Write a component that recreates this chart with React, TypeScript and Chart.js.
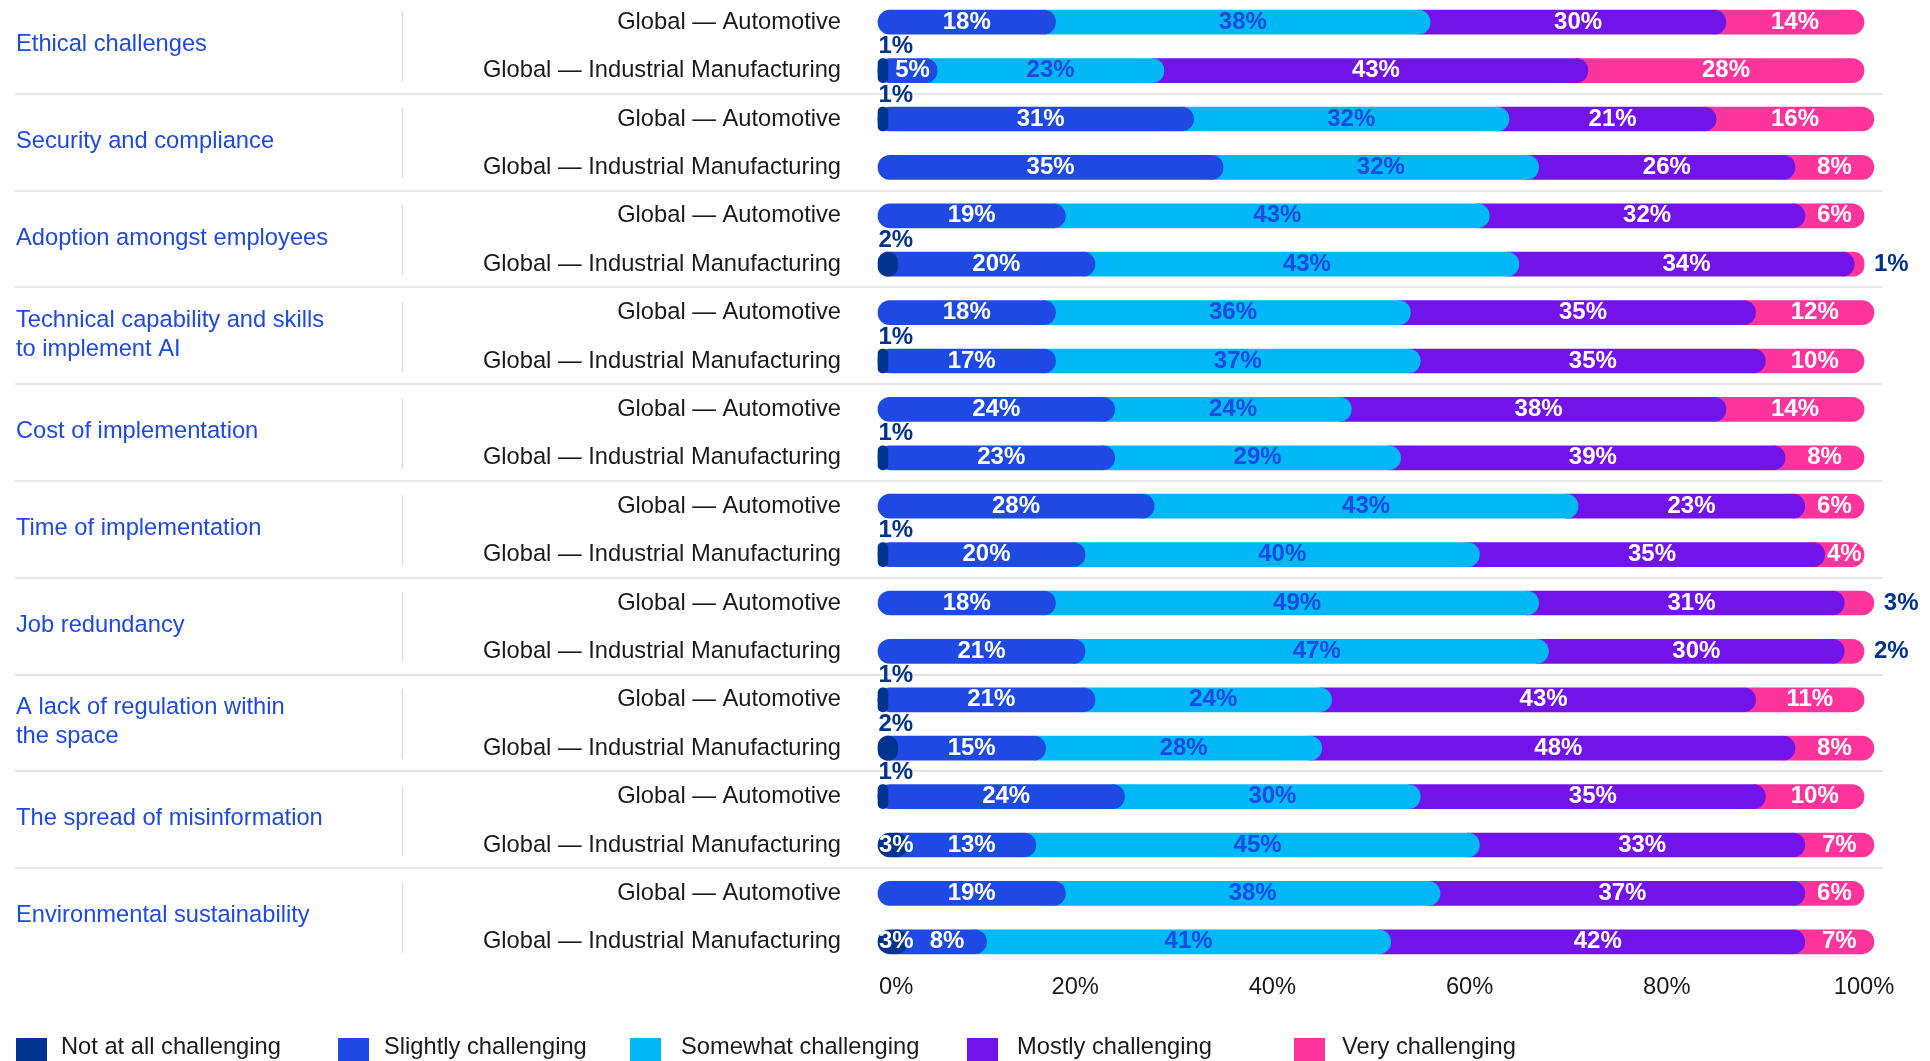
import { useEffect, useRef } from "react";
import { Chart, registerables } from "chart.js";

Chart.register(...registerables);

const CATEGORIES: (string | string[])[] = [
  "Ethical challenges",
  "Security and compliance",
  "Adoption amongst employees",
  ["Technical capability and skills", "to implement AI"],
  "Cost of implementation",
  "Time of implementation",
  "Job redundancy",
  ["A lack of regulation within", "the space"],
  "The spread of misinformation",
  "Environmental sustainability",
];
const ROW_LABELS = ["Global — Automotive", "Global — Industrial Manufacturing"];
const SERIES_NAMES = [
  "Not at all challenging",
  "Slightly challenging",
  "Somewhat challenging",
  "Mostly challenging",
  "Very challenging",
];
// rows: each category -> Automotive, Industrial Manufacturing
const NOT_AT_ALL = [0, 1, 1, 0, 0, 2, 0, 1, 0, 1, 0, 1, 0, 0, 1, 2, 1, 3, 0, 3];
const SLIGHTLY = [18, 5, 31, 35, 19, 20, 18, 17, 24, 23, 28, 20, 18, 21, 21, 15, 24, 13, 19, 8];
const SOMEWHAT = [38, 23, 32, 32, 43, 43, 36, 37, 24, 29, 43, 40, 49, 47, 24, 28, 30, 45, 38, 41];
const MOSTLY = [30, 43, 21, 26, 32, 34, 35, 35, 38, 39, 23, 35, 31, 30, 43, 48, 35, 33, 37, 42];
const VERY = [14, 28, 16, 8, 6, 1, 12, 10, 14, 8, 6, 4, 3, 2, 11, 8, 10, 7, 6, 7];
const X_TICKS = [0, 20, 40, 60, 80, 100];

const SERIES = [NOT_AT_ALL, SLIGHTLY, SOMEWHAT, MOSTLY, VERY];
const COLORS = ["#00338D", "#1E49E2", "#00B8F5", "#7213EA", "#FD349C"];
const LABEL_COLORS = ["#FFFFFF", "#FFFFFF", "#1E49E2", "#FFFFFF", "#FFFFFF"];
const FONT = '"Liberation Sans", Arial, Helvetica, sans-serif';
const OVERLAP = 1.2;
const RADIUS = 12;
const CANVAS_TOP = -2;

const LEGEND_POS = [
  { box: 16, text: 61 },
  { box: 338, text: 384 },
  { box: 630, text: 681 },
  { box: 967, text: 1017 },
  { box: 1294, text: 1342 },
];

const rowLabels = CATEGORIES.flatMap(() => ROW_LABELS);

const decorPlugin = {
  id: "decor",
  beforeDatasetsDraw(chart: any) {
    const ctx = chart.ctx as CanvasRenderingContext2D;
    const ys = chart.scales.y;
    ctx.save();
    // horizontal separators
    ctx.strokeStyle = "#E6E6E6";
    ctx.lineWidth = 2;
    for (let g = 1; g < CATEGORIES.length; g++) {
      const y = Math.round((ys.getPixelForValue(2 * g - 1) + ys.getPixelForValue(2 * g)) / 2 - 1);
      ctx.beginPath();
      ctx.moveTo(15, y);
      ctx.lineTo(1883, y);
      ctx.stroke();
    }
    // vertical separators
    ctx.strokeStyle = "#DDDDDD";
    ctx.lineWidth = 1.5;
    for (let g = 0; g < CATEGORIES.length; g++) {
      const y0 = ys.getPixelForValue(2 * g) - 11;
      const y1 = ys.getPixelForValue(2 * g + 1) + 11;
      ctx.beginPath();
      ctx.moveTo(402.5, y0);
      ctx.lineTo(402.5, y1);
      ctx.stroke();
    }
    // category labels
    ctx.fillStyle = "#1E49E2";
    ctx.font = `23.7px ${FONT}`;
    ctx.textAlign = "left";
    ctx.textBaseline = "middle";
    CATEGORIES.forEach((cat, g) => {
      const lines = Array.isArray(cat) ? cat : [cat];
      const cy = (ys.getPixelForValue(2 * g) + ys.getPixelForValue(2 * g + 1)) / 2 - 2;
      const lh = 29.5;
      lines.forEach((ln, j) => {
        ctx.fillText(ln, 16, cy + (j - (lines.length - 1) / 2) * lh);
      });
    });
    // row (sub) labels
    ctx.fillStyle = "#1A1A1A";
    ctx.textAlign = "right";
    rowLabels.forEach((lab, i) => {
      ctx.fillText(lab, 841, ys.getPixelForValue(i));
    });
    ctx.restore();
  },
  afterDatasetsDraw(chart: any) {
    const ctx = chart.ctx as CanvasRenderingContext2D;
    const xs = chart.scales.x;
    const ys = chart.scales.y;
    ctx.save();
    ctx.font = `bold 24px ${FONT}`;
    ctx.textBaseline = "middle";
    for (let i = 0; i < rowLabels.length; i++) {
      const y = ys.getPixelForValue(i);
      let cum = 0;
      for (let k = 0; k < SERIES.length; k++) {
        const v = SERIES[k][i];
        if (!v) continue;
        const x0 = xs.getPixelForValue(cum);
        const x1 = xs.getPixelForValue(cum + v);
        const text = `${v}%`;
        const w = ctx.measureText(text).width;
        if (k === 0 && v <= 2) {
          ctx.fillStyle = "#00338D";
          ctx.textAlign = "left";
          ctx.fillText(text, x0 + 0.5, y - 24);
        } else if (k === SERIES.length - 1 && v <= 3) {
          ctx.fillStyle = "#00338D";
          ctx.textAlign = "left";
          ctx.fillText(text, x1 + 10, y);
        } else {
          ctx.fillStyle = LABEL_COLORS[k];
          ctx.textAlign = "center";
          let cx = (x0 + x1) / 2;
          if (k === 0) cx = Math.max(cx, x0 + w / 2 + 1);
          ctx.fillText(text, cx, y);
        }
        cum += v;
      }
    }
    // x tick labels
    ctx.font = `23.7px ${FONT}`;
    ctx.fillStyle = "#1A1A1A";
    const ty = 987 - CANVAS_TOP;
    X_TICKS.forEach((t, idx) => {
      const px = xs.getPixelForValue(t);
      ctx.textAlign = idx === 0 ? "left" : "center";
      ctx.fillText(`${t}%`, idx === 0 ? px + 1 : px, ty);
    });
    ctx.restore();
  },
};

export default function App() {
  const ref = useRef<HTMLCanvasElement | null>(null);

  useEffect(() => {
    document.body.style.margin = "0";
    document.body.style.overflow = "hidden";
    const canvas = ref.current;
    if (!canvas) return;

    const datasets = SERIES.map((vals, k) => ({
      label: SERIES_NAMES[k],
      data: vals.map((v, i) => {
        if (!v) return null;
        let start = 0;
        for (let j = 0; j < k; j++) start += SERIES[j][i];
        return [Math.max(0, start - OVERLAP), start + v];
      }),
      backgroundColor: COLORS[k],
      borderWidth: 0,
      borderSkipped: false,
      borderRadius: (c: any) => {
        const raw = c.raw as number[] | null;
        if (raw && raw[0] <= 0) return RADIUS;
        return { topLeft: 0, bottomLeft: 0, topRight: RADIUS, bottomRight: RADIUS };
      },
      barThickness: 24,
      grouped: false,
      clip: false as any,
    }));

    const chart = new Chart(canvas, {
      type: "bar",
      data: { labels: rowLabels, datasets: datasets as any },
      options: {
        indexAxis: "y",
        animation: false,
        responsive: false,
        devicePixelRatio: 1,
        layout: { padding: { left: 878, right: 66, top: 0, bottom: 95 } },
        plugins: {
          legend: { display: false },
          tooltip: { enabled: false },
        },
        scales: {
          x: { type: "linear", min: 0, max: 100, display: false },
          y: { type: "category", offset: true, display: false },
        },
      },
      plugins: [decorPlugin],
    });
    return () => chart.destroy();
  }, []);

  return (
    <div
      style={{
        position: "fixed",
        left: 0,
        top: 0,
        width: 1930,
        height: 1061,
        overflow: "hidden",
        background: "#FFFFFF",
      }}
    >
      <canvas
        ref={ref}
        width={1930}
        height={1063}
        style={{ position: "absolute", left: 0, top: CANVAS_TOP, width: 1930, height: 1063 }}
      />
      {SERIES_NAMES.map((name, k) => (
        <div key={name}>
          <div
            style={{
              position: "absolute",
              left: LEGEND_POS[k].box,
              top: 1038,
              width: 31,
              height: 24,
              background: COLORS[k],
            }}
          />
          <span
            style={{
              position: "absolute",
              left: LEGEND_POS[k].text,
              top: 1035,
              fontFamily: FONT,
              fontSize: "23.7px",
              lineHeight: "23.7px",
              color: "#1A1A1A",
              whiteSpace: "nowrap",
            }}
          >
            {name}
          </span>
        </div>
      ))}
    </div>
  );
}
